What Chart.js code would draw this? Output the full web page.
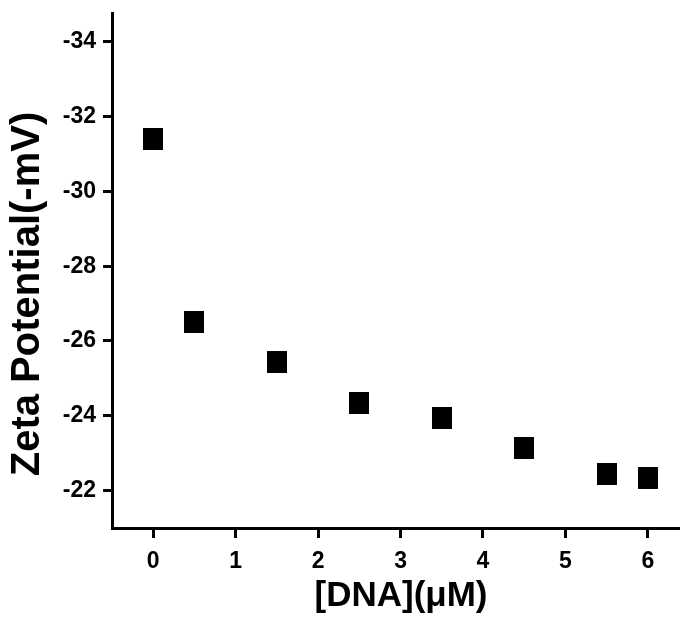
<!DOCTYPE html>
<html>
<head>
<meta charset="utf-8">
<script src="https://cdn.jsdelivr.net/npm/chart.js@4"></script>
<style>
  body { margin: 0; background: #fff; }
  canvas { display: block; }
</style>
</head>
<body>
<canvas id="zetaChart" width="680" height="623"></canvas>
<script>
// データ
let dnaConc = [0, 0.5, 1.5, 2.5, 3.5, 4.5, 5.5, 6];
let zetaValues = [-31.4, -26.5, -25.45, -24.35, -23.95, -23.15, -22.45, -22.35];
let xTickValues = [0, 1, 2, 3, 4, 5, 6];
let yTickValues = [-34, -32, -30, -28, -26, -24, -22];

let xTitle = "[DNA](\u03BCM)";
let yTitle = "Zeta Potential(-mV)";

// 四角マーカー
let marker = document.createElement('canvas');
marker.width = 20;
marker.height = 22;
let mctx = marker.getContext('2d');
mctx.fillStyle = '#000';
mctx.fillRect(0, 0, 20, 22);

let fontFamily = "'Liberation Sans', Arial, sans-serif";

// 軸タイトルを描画
const axisTitles = {
    id: 'axisTitles',
    afterDraw(chart) {
        let c = chart.ctx;
        c.save();
        c.fillStyle = '#000';
        c.font = "bold 40px " + fontFamily;
        c.textAlign = 'center';
        c.textBaseline = 'middle';
        c.translate(28, 294);
        c.rotate(-Math.PI / 2);
        c.fillText(yTitle, 0, 0);
        c.restore();

        c.save();
        c.fillStyle = '#000';
        c.font = "bold 35px " + fontFamily;
        c.textAlign = 'center';
        c.textBaseline = 'middle';
        c.fillText(xTitle, 401, 596);
        c.restore();
    }
};

let ctx = document.getElementById('zetaChart').getContext('2d');
let zetaChart = new Chart(ctx, {
    type: 'scatter',
    data: {
        datasets: [{
            label: 'Zeta',
            data: dnaConc.map((x, i) => ({ x: x, y: zetaValues[i] })),
            pointStyle: marker,
            pointRadius: 11,
            backgroundColor: '#000',
            borderColor: '#000'
        }]
    },
    options: {
        responsive: false,
        animation: false,
        layout: { autoPadding: false, padding: { top: 13, right: 0, left: 0, bottom: 0 } },
        plugins: {
            legend: { display: false },
            tooltip: { enabled: false }
        },
        scales: {
            x: {
                type: 'linear',
                min: -0.5,
                max: 6.39,
                afterBuildTicks: (axis) => { axis.ticks = xTickValues.map(v => ({ value: v })); },
                afterFit: (axis) => {
                    axis.height = 95;
                    axis.paddingLeft = 0;
                    axis.paddingRight = 0;
                },
                grid: { drawOnChartArea: false, drawTicks: true, tickLength: 10, tickWidth: 3, tickColor: '#000' },
                border: { display: true, color: '#000', width: 3 },
                ticks: { color: '#000', padding: 10, maxRotation: 0, font: { family: fontFamily, size: 23, weight: 'bold' } }
            },
            y: {
                type: 'linear',
                reverse: true,
                min: -34.77,
                max: -21,
                afterBuildTicks: (axis) => { axis.ticks = yTickValues.map(v => ({ value: v })); },
                afterFit: (axis) => {
                    axis.width = 112;
                    axis.paddingTop = 0;
                    axis.paddingBottom = 0;
                },
                grid: { drawOnChartArea: false, drawTicks: true, tickLength: 9, tickWidth: 3, tickColor: '#000' },
                border: { display: true, color: '#000', width: 3 },
                ticks: { color: '#000', padding: 7, font: { family: fontFamily, size: 23, weight: 'bold' } }
            }
        }
    },
    plugins: [axisTitles]
});
</script>
</body>
</html>
